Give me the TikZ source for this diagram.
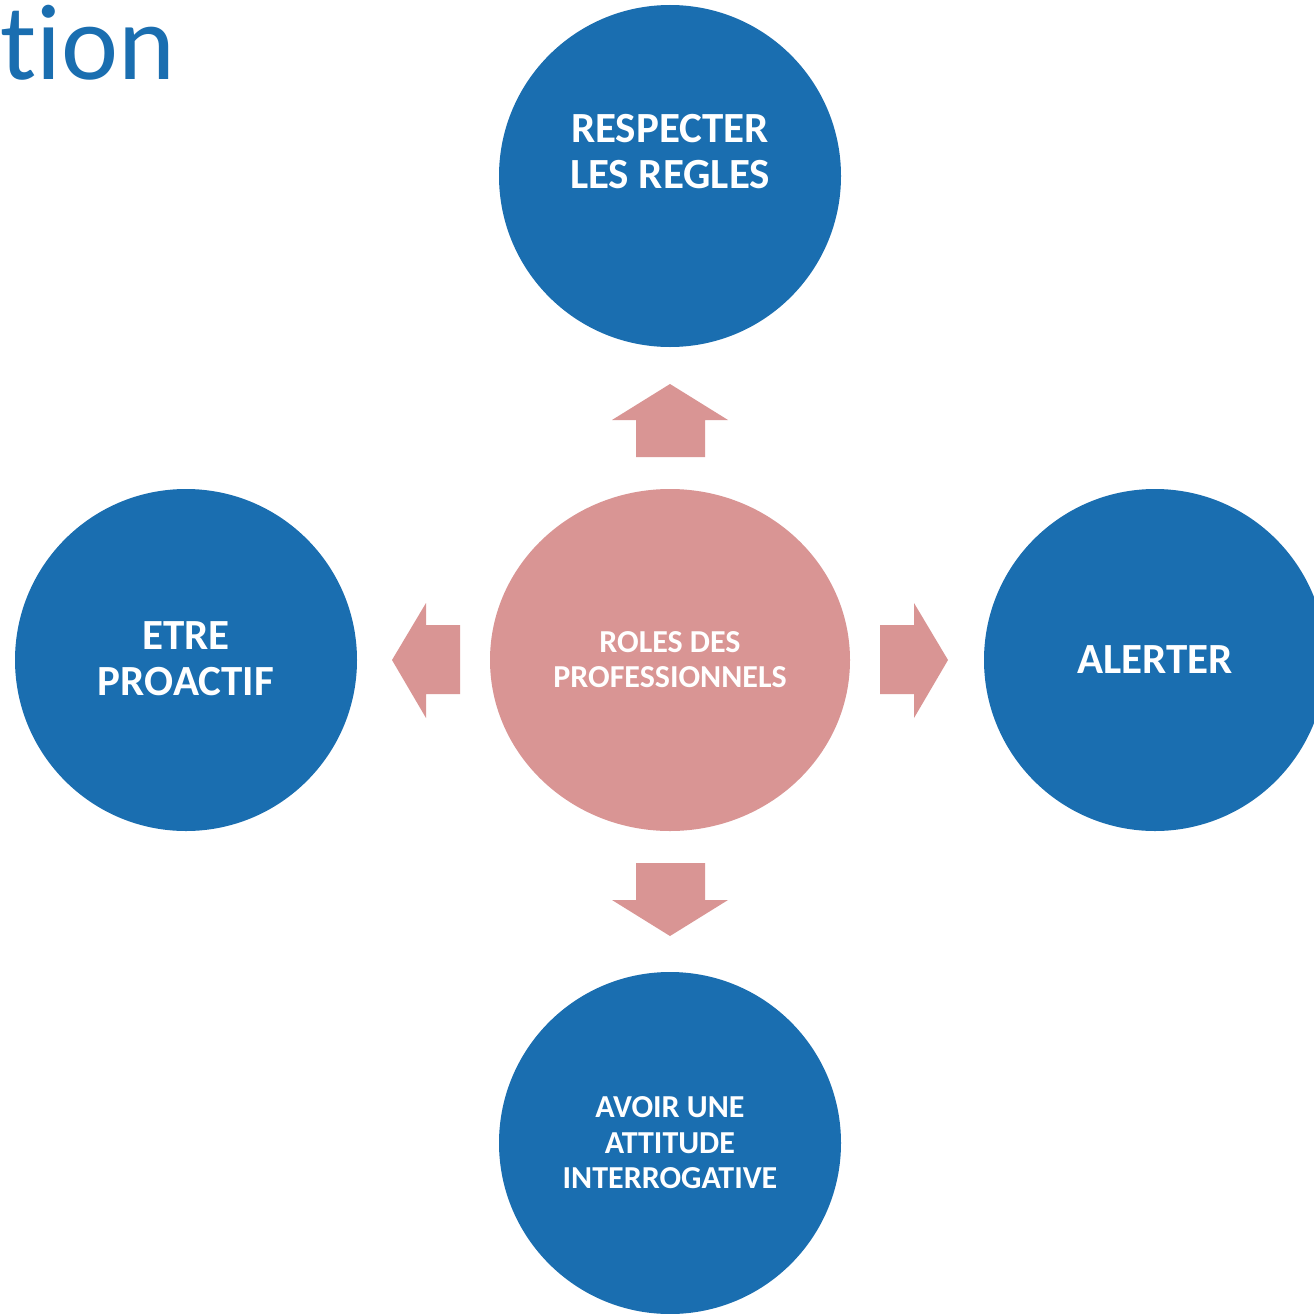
\documentclass[tikz,border=0pt]{standalone}
\usepackage{fontspec}
\setmainfont[Ligatures={NoCommon}]{Carlito}
\usetikzlibrary{shapes.geometric}
\definecolor{roleblue}{RGB}{26,110,176}
\definecolor{rolepink}{RGB}{217,149,148}
\begin{document}
\begin{tikzpicture}[x=1pt,y=-1pt,
  rolecircle/.style={circle,fill=roleblue,minimum size=342pt,inner sep=0pt},
  bigtext/.style={text=white,align=center,font=\fontsize{43}{46}\selectfont\bfseries},
  smalltext/.style={text=white,align=center,font=\fontsize{32}{35.5}\selectfont\bfseries},
  blockarrow/.style={fill=rolepink,draw=none}]
\clip (0,0) rectangle (1314,1314);
\fill[white] (0,0) rectangle (1314,1314);

% heading fragment
\node[anchor=base west,inner sep=0pt,text=roleblue,font=\fontsize{108}{114}\selectfont] (head) at (0,80) {tion};

% central role
\node[ellipse,fill=rolepink,minimum width=360pt,minimum height=342pt,inner sep=0pt] (centre) at (670,660) {};
\node[smalltext] (centretext) at (670,659.5) {ROLES DES\\PROFESSIONNELS};

% surrounding roles
\node[rolecircle] (top) at (670,176) {};
\node[bigtext] (toptext) at (670,152) {RESPECTER\\LES REGLES};
\node[rolecircle] (left) at (186,660) {};
\node[bigtext] (lefttext) at (186,659) {ETRE\\PROACTIF};
\node[rolecircle] (right) at (1155,660) {};
\node[bigtext] (righttext) at (1155,660) {ALERTER};
\node[rolecircle] (bottom) at (670,1143) {};
\node[smalltext] (bottomtext) at (670,1143) {AVOIR UNE\\ATTITUDE\\INTERROGATIVE};

% block arrows pointing outward
\fill[blockarrow] (636,457) -- (636,420) -- (612,420) -- (670,384) -- (728,420) -- (705,420) -- (705,457) -- cycle;
\fill[blockarrow] (636,863) -- (636,900) -- (612,900) -- (670,936) -- (728,900) -- (705,900) -- (705,863) -- cycle;
\fill[blockarrow] (460,625) -- (426,625) -- (426,603) -- (392,660) -- (426,718) -- (426,694) -- (460,694) -- cycle;
\fill[blockarrow] (880,625) -- (914,625) -- (914,603) -- (948,660) -- (914,718) -- (914,694) -- (880,694) -- cycle;
\end{tikzpicture}
\end{document}
